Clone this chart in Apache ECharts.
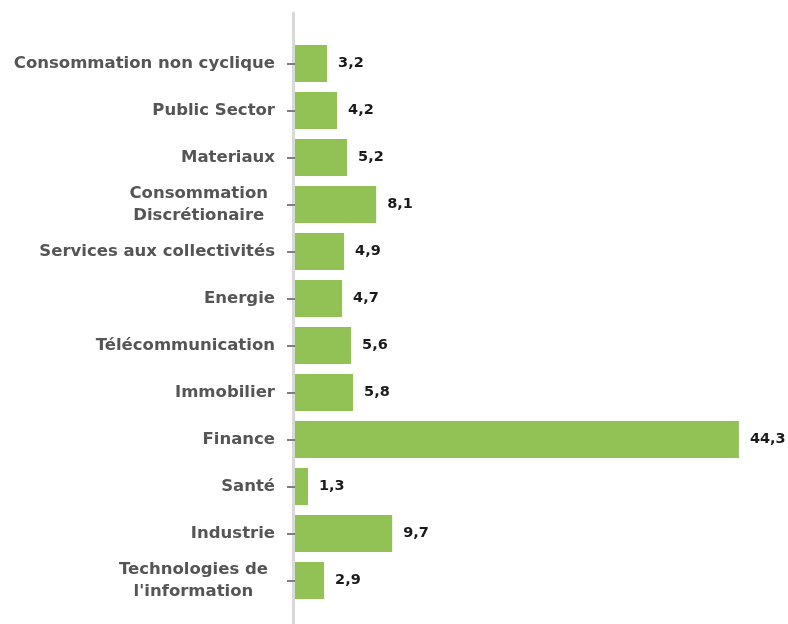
<!DOCTYPE html>
<html>
<head>
<meta charset="utf-8">
<script src="https://cdn.jsdelivr.net/npm/echarts@6/dist/echarts.min.js"></script>
<style>
    html, body { margin: 0; padding: 0; background: #fff; }
    #chart { width: 788px; height: 624px; }
</style>
</head>
<body>
<div id="chart"></div>
<script>
// 类别（从上到下）
const categories = [
    'Consommation non cyclique',
    'Public Sector',
    'Materiaux',
    'Consommation\nDiscrétionaire',
    'Services aux collectivités',
    'Energie',
    'Télécommunication',
    'Immobilier',
    'Finance',
    'Santé',
    'Industrie',
    "Technologies de\nl'information"
];

// 权重 (%)
const weights = [3.2, 4.2, 5.2, 8.1, 4.9, 4.7, 5.6, 5.8, 44.3, 1.3, 9.7, 2.9];

const chart = echarts.init(document.getElementById('chart'));

const labelFont = 'DejaVu Sans, Verdana, sans-serif';

const richBase = {
    align: 'center',
    fontFamily: labelFont,
    fontWeight: 'bold',
    fontSize: 16.5,
    color: '#555555',
    lineHeight: 22.5
};

const option = {
    backgroundColor: '#ffffff',
    animation: false,
    grid: [
        { left: 295, right: 12, top: 40, bottom: 20 },
        // 仅用于绘制延伸的纵轴线
        { left: 293.5, right: 12, top: 13, bottom: 0 }
    ],
    xAxis: [
        { type: 'value', gridIndex: 0, min: 0, max: 48, show: false },
        { type: 'value', gridIndex: 1, min: 0, max: 1, show: false }
    ],
    yAxis: [
        {
            type: 'category',
            gridIndex: 0,
            inverse: true,
            data: categories,
            axisLine: { show: false },
            axisTick: {
                show: true,
                alignWithLabel: true,
                length: 8,
                lineStyle: { color: '#7f7f7f', width: 2 }
            },
            axisLabel: {
                margin: 20,
                fontFamily: labelFont,
                fontWeight: 'bold',
                fontSize: 16.5,
                color: '#555555',
                lineHeight: 22.5,
                formatter: function (value) {
                    const lines = value.split('\n');
                    const style = lines.length > 1 ? 'm' : 'c';
                    return lines.map(line => '{' + style + '|' + line + '}').join('\n');
                },
                rich: {
                    c: richBase,
                    // 两行标签整体略向左
                    m: Object.assign({}, richBase, { padding: [0, 7, 0, 0] })
                }
            },
            splitLine: { show: false }
        },
        {
            type: 'category',
            gridIndex: 1,
            data: [''],
            axisLine: { show: true, lineStyle: { color: '#d9d9d9', width: 3 } },
            axisTick: { show: false },
            axisLabel: { show: false }
        }
    ],
    series: [{
        type: 'bar',
        xAxisIndex: 0,
        yAxisIndex: 0,
        data: weights,
        barCategoryGap: '21%',
        itemStyle: { color: '#92c156' },
        label: {
            show: true,
            position: 'right',
            distance: 11,
            fontFamily: labelFont,
            fontWeight: 'bold',
            fontSize: 14.5,
            color: '#1a1a1a',
            formatter: p => p.value.toFixed(1).replace('.', ',')
        }
    }]
};

chart.setOption(option);

window.addEventListener('resize', function () {
    chart.resize();
});
</script>
</body>
</html>
